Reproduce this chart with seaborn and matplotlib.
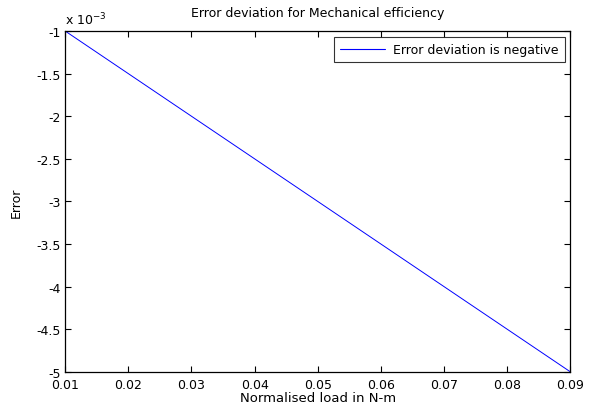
import matplotlib
matplotlib.use("Agg")
import matplotlib.pyplot as plt
import matplotlib.ticker as mticker
from matplotlib.lines import Line2D
import numpy as np
import pandas as pd
import seaborn as sns

# Normalised load (N-m) and the corresponding error of mechanical efficiency
load = [0.01, 0.02, 0.03, 0.04, 0.05, 0.06, 0.07, 0.08, 0.09]
error = [-1.0e-3, -1.5e-3, -2.0e-3, -2.5e-3, -3.0e-3, -3.5e-3, -4.0e-3, -4.5e-3, -5.0e-3]

x_ticks = [0.01, 0.02, 0.03, 0.04, 0.05, 0.06, 0.07, 0.08, 0.09]
y_ticks = [-5e-3, -4.5e-3, -4e-3, -3.5e-3, -3e-3, -2.5e-3, -2e-3, -1.5e-3, -1e-3]

df = pd.DataFrame({"load": load, "error": error})

sns.set_style("white")
plt.rcParams["font.family"] = ["DejaVu Sans"]
plt.rcParams["font.size"] = 9
plt.rcParams["text.color"] = "black"
plt.rcParams["axes.labelcolor"] = "black"

line_color = "#0000ff"

fig = plt.figure(figsize=(6.04, 4.06), dpi=100)
ax = fig.add_axes([0.108, 0.082, 0.836, 0.839])

sns.lineplot(data=df, x="load", y="error", ax=ax, color=line_color,
             linewidth=0.7, legend=False)

ax.set_xlim(0.01, 0.09)
ax.set_ylim(-5e-3, -1e-3)
ax.set_xticks(x_ticks)
ax.set_yticks(y_ticks)
ax.xaxis.set_major_formatter(mticker.FuncFormatter(lambda v, p: f"{v:.2f}"))
ax.yaxis.set_major_formatter(mticker.FuncFormatter(lambda v, p: f"{v * 1e3:g}"))

ax.tick_params(direction="in", length=4, width=0.8, top=True, right=True,
               bottom=True, left=True, labelsize=9, colors="black")
ax.tick_params(axis="x", pad=4.5)
ax.tick_params(axis="y", pad=3)
for s in ax.spines.values():
    s.set_visible(True)
    s.set_color("black")
    s.set_linewidth(0.9)

ax.text(0.0, 1.012, r"x 10$^{-3}$", transform=ax.transAxes, fontsize=9,
        ha="left", va="bottom", color="black")

ax.set_title("Error deviation for Mechanical efficiency", fontsize=9, pad=11,
             color="black")
ax.set_xlabel("Normalised load in N-m", fontsize=9.5, labelpad=0)
ax.set_ylabel("Error", fontsize=9, labelpad=10)

legend_handle = Line2D([], [], color=line_color, linewidth=0.8)
leg = ax.legend([legend_handle], ["Error deviation is negative"],
                loc="upper right", fontsize=9, frameon=True, fancybox=False,
                handlelength=3.6, borderaxespad=0.45, borderpad=0.5,
                handletextpad=0.6)
leg.get_frame().set_edgecolor("black")
leg.get_frame().set_linewidth(0.8)
for h in leg.legend_handles:
    h.set_color(line_color)
for t in leg.get_texts():
    t.set_color("black")

fig.savefig("out.png", dpi=100, facecolor="white")
